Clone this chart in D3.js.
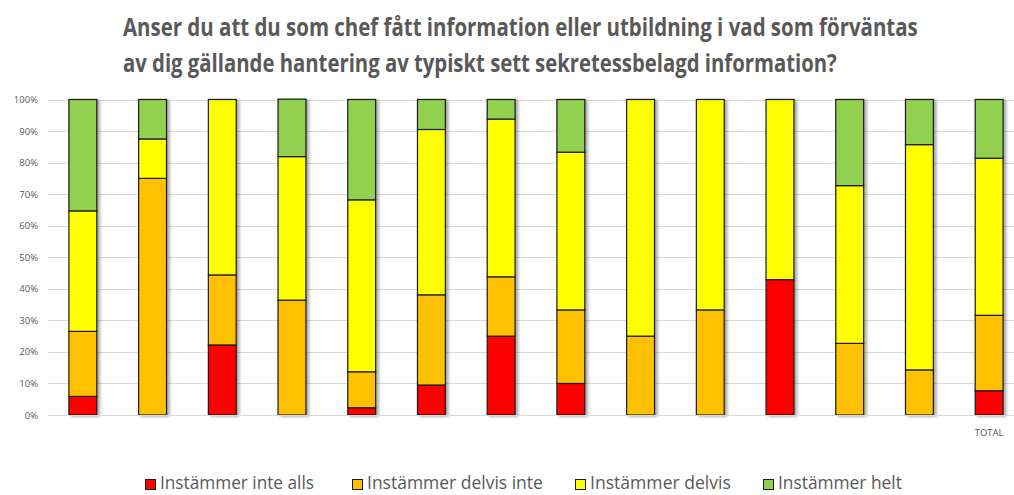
<!DOCTYPE html>
<html>
<head>
<meta charset="utf-8">
<script src="https://cdn.jsdelivr.net/npm/d3@7"></script>
<style>
  body { margin: 0; background: #fff; }
  svg { display: block; }
</style>
</head>
<body>
<div id="chart"></div>
<script>
// Data (percent of answers per group)
const xLabels = ["", "", "", "", "", "", "", "", "", "", "", "", "", "TOTAL"];
const seriesNames = ["Instämmer inte alls", "Instämmer delvis inte", "Instämmer delvis", "Instämmer helt"];
const seriesColors = ["#FF0000", "#FFC000", "#FFFF00", "#92D050"];
const inteAlls   = [5.9, 0, 22.2, 0, 2.3, 9.5, 25, 10, 0, 0, 42.9, 0, 0, 7.7];
const delvisInte = [20.6, 75, 22.2, 36.4, 11.4, 28.6, 18.8, 23.3, 25, 33.3, 0, 22.7, 14.3, 23.9];
const delvis     = [38.2, 12.5, 55.6, 45.5, 54.5, 52.4, 50, 50, 75, 66.7, 57.1, 50, 71.4, 49.8];
const helt       = [35.3, 12.5, 0, 18.2, 31.8, 9.5, 6.2, 16.7, 0, 0, 0, 27.3, 14.3, 18.6];
const yTicks = [0, 10, 20, 30, 40, 50, 60, 70, 80, 90, 100];
const titleLines = [
    "Anser du att du som chef fått information eller utbildning i vad som förväntas",
    "av dig gällande hantering av typiskt sett sekretessbelagd information?"
];

const width = 1014, height = 495;
const textColor = "#595959";
const font = "'Open Sans', 'Noto Sans', sans-serif";

const svg = d3.select("#chart").append("svg")
    .attr("width", width)
    .attr("height", height);

// Squeeze a text horizontally so it fills the wanted width (Calibri is narrower)
function fitWidth(sel, target) {
    sel.each(function (d, i) {
        const t = d3.select(this);
        const natural = this.getComputedTextLength();
        const w = typeof target === "function" ? target(d, i) : target;
        const sx = w / natural;
        const x0 = +t.attr("x"), y0 = +t.attr("y");
        t.attr("x", 0).attr("y", 0)
            .attr("transform", `translate(${x0},${y0}) scale(${sx},1)`);
    });
}

// Drop shadow like the Excel bars
const defs = svg.append("defs");
const shadow = defs.append("filter")
    .attr("id", "shadow")
    .attr("x", "-20%").attr("y", "-5%")
    .attr("width", "160%").attr("height", "110%");
shadow.append("feDropShadow")
    .attr("dx", 2.5).attr("dy", 1)
    .attr("stdDeviation", 1.5)
    .attr("flood-color", "#000")
    .attr("flood-opacity", 0.35);

// Title
svg.append("g").selectAll("text")
    .data(titleLines)
    .enter().append("text")
    .attr("x", 123)
    .attr("y", (d, i) => 35.5 + i * 36)
    .style("font-family", font)
    .style("font-weight", "bold")
    .style("font-size", "25px")
    .style("fill", textColor)
    .text(d => d)
    .call(fitWidth, (d, i) => i === 0 ? 795 : 714);

// Scales
const x = d3.scaleBand()
    .domain(d3.range(xLabels.length))
    .range([48, 1024])
    .paddingInner(0.6)
    .paddingOuter(0.3);

const y = d3.scaleLinear()
    .domain([0, 100])
    .range([415, 99.5]);

// Gridlines
svg.append("g").selectAll("line")
    .data(yTicks)
    .enter().append("line")
    .attr("x1", 48).attr("x2", width)
    .attr("y1", d => Math.round(y(d)) + 0.5)
    .attr("y2", d => Math.round(y(d)) + 0.5)
    .attr("stroke", "#d9d9d9")
    .attr("stroke-width", 1);

// Y axis labels
const yAxis = svg.append("g")
    .attr("transform", "translate(42,0)")
    .call(d3.axisLeft(y).tickValues(yTicks).tickSize(0).tickPadding(4).tickFormat(d => d + "%"));
yAxis.select(".domain").remove();
yAxis.selectAll("text")
    .style("font-family", font)
    .style("font-size", "9.5px")
    .style("fill", textColor);

// Stack the series
const rows = xLabels.map((label, i) => ({
    i,
    s0: inteAlls[i], s1: delvisInte[i], s2: delvis[i], s3: helt[i]
}));
const stack = d3.stack().keys(["s0", "s1", "s2", "s3"]);
const stacked = stack(rows);

// One group per category so the shadow falls behind the whole bar
const barGroups = svg.append("g").selectAll("g")
    .data(rows)
    .enter().append("g")
    .attr("filter", "url(#shadow)");

barGroups.selectAll("rect")
    .data(r => stacked.map((s, k) => ({ k, y0: s[r.i][0], y1: s[r.i][1], i: r.i }))
        .filter(d => d.y1 - d.y0 > 0))
    .enter().append("rect")
    .attr("x", d => x(d.i))
    .attr("y", d => y(d.y1))
    .attr("width", x.bandwidth())
    .attr("height", d => y(d.y0) - y(d.y1))
    .attr("fill", d => seriesColors[d.k])
    .attr("stroke", "#1a1a1a")
    .attr("stroke-width", 1.2);

// Baseline
svg.append("line")
    .attr("x1", 48).attr("x2", width)
    .attr("y1", 415.5).attr("y2", 415.5)
    .attr("stroke", "#d9d9d9");

// Category labels (only TOTAL is labelled)
svg.append("g").selectAll("text")
    .data(xLabels)
    .enter().append("text")
    .attr("x", (d, i) => x(i) + x.bandwidth() / 2)
    .attr("y", 436)
    .attr("text-anchor", "middle")
    .style("font-family", font)
    .style("font-size", "9.5px")
    .style("fill", textColor)
    .text(d => d);

// Legend
const legendX = [145, 352, 575, 763];
const legendW = [154, 176, 141, 124];
const legend = svg.append("g").selectAll("g")
    .data(seriesNames)
    .enter().append("g")
    .attr("transform", (d, i) => `translate(${legendX[i]},0)`);

legend.append("rect")
    .attr("x", 0.5).attr("y", 479.5)
    .attr("width", 10).attr("height", 10)
    .attr("fill", (d, i) => seriesColors[i])
    .attr("stroke", "#1a1a1a")
    .attr("stroke-width", 1);

legend.append("text")
    .attr("x", 15)
    .attr("y", 489)
    .style("font-family", font)
    .style("font-size", "18px")
    .style("fill", textColor)
    .text(d => d)
    .call(fitWidth, (d, i) => legendW[i]);
</script>
</body>
</html>
